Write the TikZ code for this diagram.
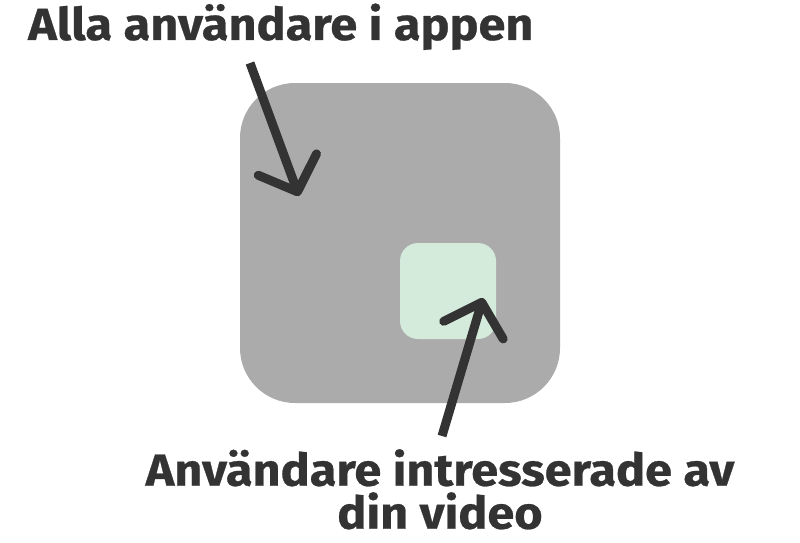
\documentclass[tikz,border=0pt]{standalone}
\usepackage{fontspec}
\setmainfont{Fira Sans}[BoldFeatures={FakeStretch=1.08, FakeBold=0.6}]
\usetikzlibrary{arrows.meta}
\definecolor{inkdark}{HTML}{333333}
\definecolor{allgray}{HTML}{ABABAB}
\definecolor{mintgreen}{HTML}{D4EBDB}
\begin{document}
\begin{tikzpicture}[x=1pt, y=-1pt, line join=round, line cap=round,
    label text/.style={inner sep=0pt, text=inkdark, font=\fontsize{45}{43}\selectfont\bfseries},
    user box/.style={draw=none, inner sep=0pt, minimum size=#1},
    pointer/.style={draw=inkdark, line width=9pt, line cap=butt,
      -{Straight Barb[length=29pt, width=62pt, round]}}]
  \useasboundingbox (0,0) rectangle (800,543);
  % big square and small square
  \node[user box=320pt, fill=allgray, rounded corners=55pt] (allusers) at (400,243) {};
  \node[user box=96pt, fill=mintgreen, rounded corners=18pt] (interested) at (448,291) {};
  % labels
  \node[label text, anchor=base west] (toplabel) at (28,40) {Alla användare i appen};
  \node[label text, anchor=north, align=center] (bottomlabel) at (440,449)
    {Användare intresserade av\\din video};
  % arrows
  \coordinate (topstart) at (250,63);
  \coordinate (toptip) at (299,196);
  \coordinate (bottomstart) at (442,436);
  \coordinate (bottomtip) at (483,298);
  \draw[pointer] (topstart) -- (toptip);
  \draw[pointer] (bottomstart) -- (bottomtip);
\end{tikzpicture}
\end{document}
